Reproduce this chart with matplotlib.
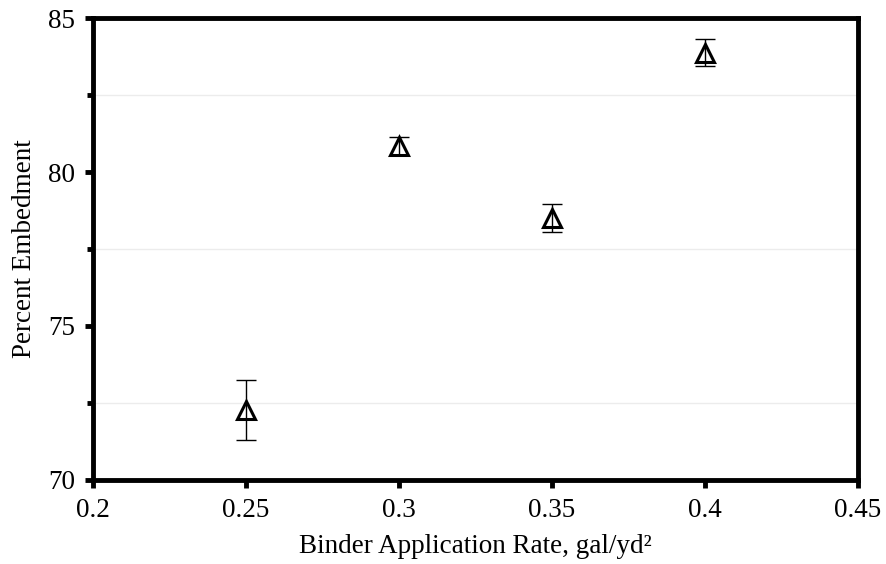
import numpy as np
import matplotlib
matplotlib.use('Agg')
import matplotlib.pyplot as plt
from matplotlib.ticker import MultipleLocator

# binder application rate vs embedment
rate = [0.25, 0.30, 0.35, 0.40]
embed = [72.28, 80.85, 78.50, 83.88]
err = [0.98, 0.30, 0.45, 0.44]

plt.rcParams['font.family'] = 'Liberation Serif'

fig = plt.figure(figsize=(8.86, 5.64), dpi=100)
ax = fig.add_axes([0.105, 0.149, 0.863, 0.819])

# markers first, error bars drawn over them
ax.plot(rate, embed, '^', mfc='white', mec='black', ms=13, mew=2.2, zorder=3)
ax.errorbar(rate, embed, yerr=err, fmt='none', ecolor='black', elinewidth=1,
            capsize=7, capthick=1, zorder=4)

ax.set_xlim(0.2, 0.45)
ax.set_ylim(70, 85)
ax.set_xticks([0.2, 0.25, 0.3, 0.35, 0.4, 0.45])
ax.set_xticklabels(['0.2', '0.25', '0.3', '0.35', '0.4', '0.45'])
ax.set_yticks([70, 75, 80, 85])
ax.yaxis.set_minor_locator(MultipleLocator(2.5))
ax.grid(which='minor', axis='y', color='#ececec', lw=1)

for s in ax.spines.values():
    s.set_linewidth(3.5)
ax.tick_params(which='major', direction='out', length=6, width=3.5, labelsize=19.5, pad=7)
ax.tick_params(which='minor', direction='out', length=4, width=3.5)

ax.set_xlabel('Binder Application Rate, gal/yd²', fontsize=19.5, labelpad=8)
ax.set_ylabel('Percent Embedment', fontsize=19.5, labelpad=8)

fig.savefig('out.png', dpi=100)
